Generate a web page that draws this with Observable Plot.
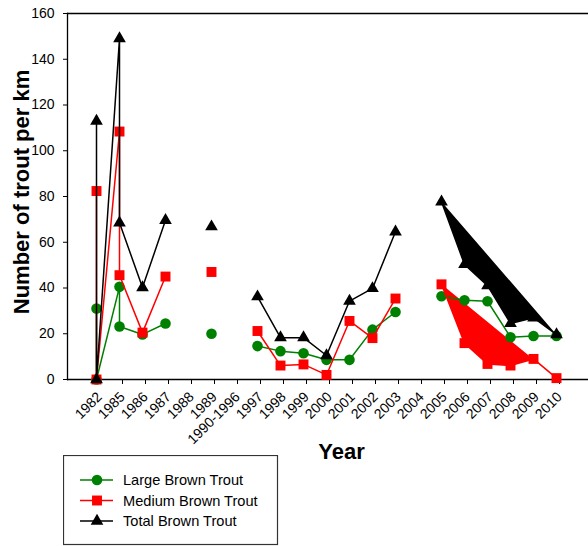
<!DOCTYPE html>
<html><head><meta charset="utf-8">
<script src="https://cdn.jsdelivr.net/npm/d3@7"></script>
<script src="https://cdn.jsdelivr.net/npm/@observablehq/plot@0.6"></script>
<style>
body{margin:0;background:#fff;}
#wrap{position:relative;width:588px;height:546px;font-family:"Liberation Sans",Arial,sans-serif;}
#legend{position:absolute;left:63px;top:455px;}
</style></head><body><div id="wrap"></div>
<script>
// ---- data ----
const categories = ["1982","1985","1986","1987","1988","1989","1990-1996","1997","1998","1999","2000","2001","2002","2003","2004","2005","2006","2007","2008","2009","2010"];
const sampleYears = ["1982","1982","1985","1985","1986","1987","1989","1997","1998","1999","2000","2001","2002","2003","2005","2006","2007","2008","2009","2010"];
const segments    = [1,1,1,1,1,1,2,3,3,3,3,3,3,3,4,4,4,4,4,4];
const largeBrown  = [31,0,40.5,23.2,19.7,24.5,20,14.6,12.4,11.5,8.6,8.6,21.8,29.5,36.4,34.6,34.2,18.5,19,19];
const mediumBrown = [82.4,0,108.4,45.6,20.5,45,47,21.2,6.1,6.6,2,25.6,18.1,35.4,41.6,15.9,6.8,6.1,9,0.6];
const totalBrown  = [113,0,149,68.5,40.2,69.6,66.8,36.2,18.3,18.3,10.5,34.3,39.8,64.6,77.7,50.3,41,24.5,27,19.6];
const seriesNames = ["Large Brown Trout","Medium Brown Trout","Total Brown Trout"];
const filledSegment = 4;
const filledSeries = ["Medium Brown Trout","Total Brown Trout"];
const yTicks = [0,20,40,60,80,100,120,140,160];

// ---- styles ----
const colors = {"Large Brown Trout":"#008000","Medium Brown Trout":"#ff0000","Total Brown Trout":"#000000"};
const symbols = {"Large Brown Trout":"circle","Medium Brown Trout":"square","Total Brown Trout":"triangle"};
const radii = {"Large Brown Trout":5.3,"Medium Brown Trout":5.6,"Total Brown Trout":4.7};

const valuesBySeries = [largeBrown, mediumBrown, totalBrown];
const rows = seriesNames.flatMap((name, s) => sampleYears.map((year, i) => ({series: name, year, value: valuesBySeries[s][i], seg: segments[i]})));

const marks = [];
filledSeries.forEach(name => {
  marks.push(Plot.line(rows.filter(d => d.series === name && d.seg === filledSegment),
    {x: "year", y: "value", fill: colors[name], stroke: "none"}));
});
seriesNames.forEach(name => {
  const d = rows.filter(r => r.series === name);
  marks.push(Plot.line(d, {x: "year", y: "value", z: "seg", stroke: colors[name], strokeWidth: 1.5}));
  marks.push(Plot.dot(d, {x: "year", y: "value", symbol: symbols[name], fill: colors[name], stroke: "none", r: radii[name]}));
});

const chart = Plot.plot({
  width: 588, height: 546,
  marginTop: 13, marginBottom: 167, marginLeft: 67, marginRight: 0,
  style: {fontFamily: "'Liberation Sans', Arial, sans-serif", fontSize: "14px", color: "black", background: "white", overflow: "visible"},
  x: {type: "point", domain: categories, range: [67, 585], padding: 1},
  y: {domain: [0, 160]},
  marks: [
    Plot.ruleY([0], {strokeWidth: 1.3}),
    Plot.ruleY([160], {strokeWidth: 1.3}),
    Plot.frame({anchor: "left", strokeWidth: 1.3}),
    Plot.axisY(yTicks, {tickSize: 4, tickPadding: 9, label: null, fontSize: 14}),
    Plot.axisX({tickRotate: -45, tickSize: 5, tickPadding: 10, dx: 3, label: null, fontSize: 14}),
    ...marks
  ]
});

const wrap = document.getElementById("wrap");
wrap.appendChild(chart);

const svg = d3.select(chart);
svg.append("text")
  .attr("transform", "translate(29,192) rotate(-90)")
  .attr("text-anchor", "middle")
  .attr("font-size", 22).attr("font-weight", "bold").attr("fill", "black")
  .text("Number of trout per km");
svg.append("text")
  .attr("x", 341.5).attr("y", 459)
  .attr("text-anchor", "middle")
  .attr("font-size", 22).attr("font-weight", "bold").attr("fill", "black")
  .text("Year");

// ---- legend ----
const lg = d3.select(wrap).append("svg").attr("id", "legend").attr("width", 216).attr("height", 91);
lg.append("rect").attr("x", 0.5).attr("y", 0.5).attr("width", 214).attr("height", 89)
  .attr("fill", "white").attr("stroke", "#333").attr("stroke-width", 1.2);
const symMap = {circle: d3.symbolCircle, square: d3.symbolSquare, triangle: d3.symbolTriangle};
seriesNames.forEach((name, i) => {
  const g = lg.append("g").attr("transform", `translate(0,${25 + i * 20.5})`);
  g.append("line").attr("x1", 17).attr("x2", 50).attr("stroke", colors[name]).attr("stroke-width", 1.5);
  const r = radii[name];
  g.append("path").attr("transform", "translate(34,0)")
    .attr("d", d3.symbol(symMap[symbols[name]], Math.PI * r * r)()).attr("fill", colors[name]);
  g.append("text").attr("x", 60).attr("y", 5.2).attr("font-size", 14.6).attr("fill", "black")
    .attr("font-family", "'Liberation Sans', Arial, sans-serif").text(name);
});
</script></body></html>
